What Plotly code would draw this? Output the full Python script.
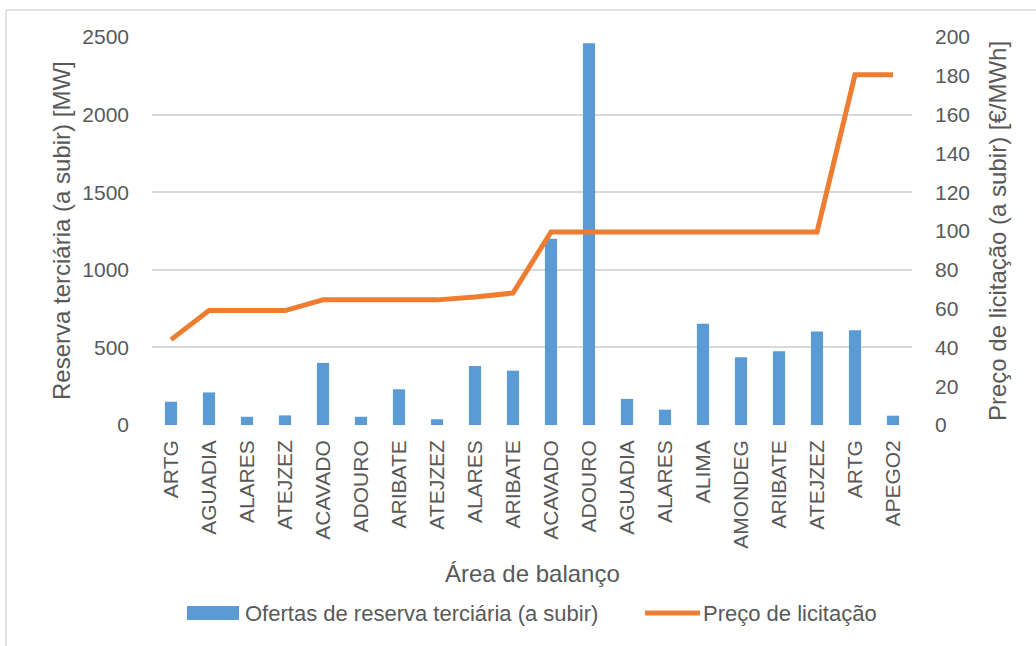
import plotly.graph_objects as go

categories = ["ARTG", "AGUADIA", "ALARES", "ATEJZEZ", "ACAVADO", "ADOURO", "ARIBATE",
              "ATEJZEZ", "ALARES", "ARIBATE", "ACAVADO", "ADOURO", "AGUADIA", "ALARES",
              "ALIMA", "AMONDEG", "ARIBATE", "ATEJZEZ", "ARTG", "APEGO2"]
offers_mw = [150, 210, 53, 62, 400, 53, 230, 37, 380, 350, 1200, 2460, 168, 99,
             652, 437, 475, 602, 610, 60]
price_eur = [44, 59, 59, 59, 64.5, 64.5, 64.5, 64.5, 66, 68, 99.5, 99.5, 99.5, 99.5,
             99.5, 99.5, 99.5, 99.5, 180.5, 180.5]

bar_name = "Ofertas de reserva terciária (a subir)"
line_name = "Preço de licitação"

FONT = "Liberation Sans"
TXT = "#595959"
BLUE = "#5b9bd5"
ORANGE = "#ed7d31"
GRID = "#d9d9d9"

W, H = 1036, 646
L, R, T, B = 152, 124, 37, 221
PW, PH = W - L - R, H - T - B


def px(x):
    return (x - L) / PW


def py(y):
    return (H - B - y) / PH


xs = list(range(len(categories)))

fig = go.Figure()
fig.add_trace(go.Bar(x=xs, y=offers_mw, name=bar_name, marker_color=BLUE,
                     marker_line_width=0, width=0.32, yaxis="y", showlegend=False))
fig.add_trace(go.Scatter(x=xs, y=price_eur, name=line_name, mode="lines",
                         line=dict(color=ORANGE, width=5), yaxis="y2", showlegend=False))

fig.update_layout(
    width=W, height=H,
    margin=dict(l=L, r=R, t=T, b=B, autoexpand=False),
    paper_bgcolor="white", plot_bgcolor="white",
    font=dict(family=FONT, color=TXT, size=21),
    xaxis=dict(range=[-0.5, len(categories) - 0.5], tickmode="array", tickvals=xs,
               ticktext=categories, tickangle=-90, showgrid=False, zeroline=False,
               showline=False, ticks="", ticklabelstandoff=10,
               tickfont=dict(size=21, color=TXT)),
    yaxis=dict(range=[0, 2500], dtick=500, showgrid=True, gridcolor=GRID, gridwidth=1.5,
               zeroline=False, showline=False, ticks="", ticklabelstandoff=22,
               tickfont=dict(size=21, color=TXT)),
    yaxis2=dict(range=[0, 200], dtick=20, overlaying="y", side="right", showgrid=False,
                zeroline=False, showline=False, ticks="", ticklabelstandoff=22,
                tickfont=dict(size=21, color=TXT)),
    bargap=0.68,
)

annotations = [
    dict(text="Reserva terciária (a subir) [MW]", x=px(61), y=0.5, xref="paper", yref="paper",
         textangle=-90, showarrow=False, font=dict(size=24, color=TXT),
         xanchor="center", yanchor="middle"),
    dict(text="Preço de licitação (a subir) [€/MWh]", x=px(997), y=0.5, xref="paper",
         yref="paper", textangle=-90, showarrow=False, font=dict(size=24, color=TXT),
         xanchor="center", yanchor="middle"),
    dict(text="Área de balanço", x=0.5, y=py(573), xref="paper", yref="paper",
         showarrow=False, font=dict(size=24, color=TXT), xanchor="center", yanchor="middle"),
    dict(text=bar_name, x=px(243), y=py(613), xref="paper", yref="paper",
         showarrow=False, font=dict(size=22, color=TXT), xanchor="left", yanchor="middle"),
    dict(text=line_name, x=px(701), y=py(613), xref="paper", yref="paper",
         showarrow=False, font=dict(size=22, color=TXT), xanchor="left", yanchor="middle"),
]
fig.update_layout(annotations=annotations)

shapes = [
    dict(type="line", xref="paper", yref="paper", x0=px(6), x1=px(6), y0=py(650), y1=py(10),
         line=dict(color=GRID, width=1.5), layer="below"),
    dict(type="line", xref="paper", yref="paper", x0=px(6), x1=px(1040), y0=py(10), y1=py(10),
         line=dict(color=GRID, width=1.5), layer="below"),
    dict(type="rect", xref="paper", yref="paper", x0=px(187), x1=px(239), y0=py(620),
         y1=py(606), line=dict(width=0), fillcolor=BLUE),
    dict(type="line", xref="paper", yref="paper", x0=px(645), x1=px(700), y0=py(613),
         y1=py(613), line=dict(color=ORANGE, width=5)),
]
fig.update_layout(shapes=shapes)

fig.write_html("out.html", config={"displayModeBar": False},
               post_script="document.body.style.margin='0';document.body.style.overflow='hidden';")
